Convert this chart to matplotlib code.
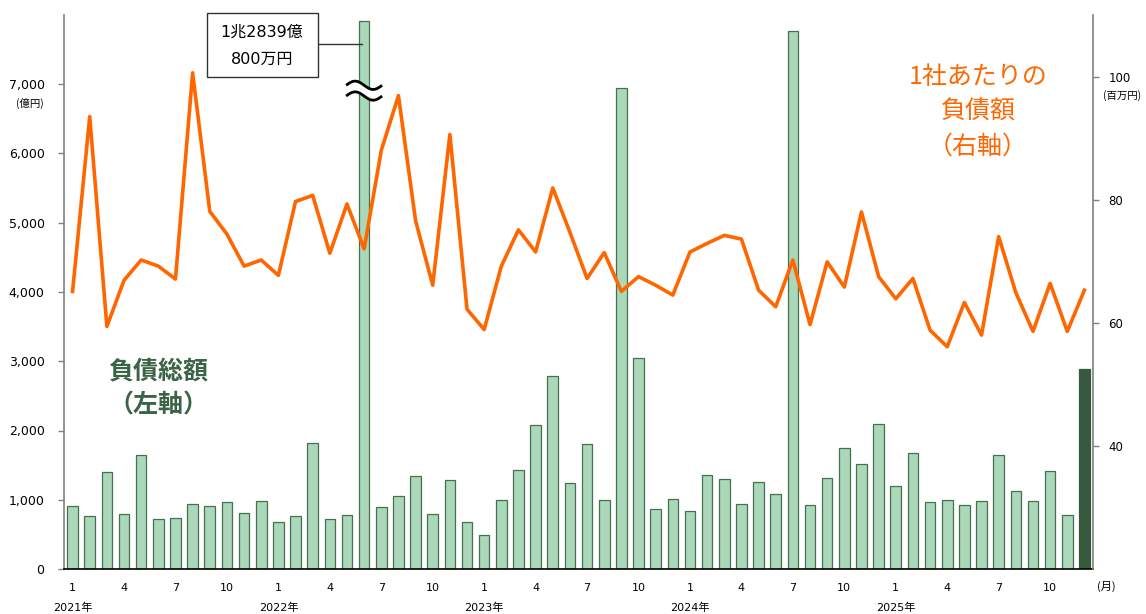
import numpy as np
import matplotlib
matplotlib.use("Agg")
import matplotlib.pyplot as plt
from matplotlib.patches import Rectangle
from matplotlib.lines import Line2D
from matplotlib.ticker import FuncFormatter
import matplotlib.transforms as mtransforms

# DejaVu for latin/digits (Verdana-like), Noto CJK for Japanese
plt.rcParams['font.family'] = ['DejaVu Sans', 'Noto Sans CJK JP']
jp = ['Noto Sans CJK JP', 'DejaVu Sans']

# monthly data 2021/1 - 2025/12
years = [2021, 2022, 2023, 2024, 2025]
months = [m for y in years for m in range(1, 13)]

# total liabilities (億円), left axis
total_debt = [
    910, 770, 1400, 795, 1650, 725, 735, 940, 910, 965, 810, 975,
    685, 770, 1820, 725, 780, 12839.08, 895, 1055, 1350, 795, 1285, 680,
    495, 1000, 1425, 2080, 2785, 1235, 1800, 990, 6950, 3050, 870, 1010,
    835, 1360, 1305, 940, 1255, 1080, 7775, 925, 1310, 1750, 1515, 2090,
    1195, 1670, 965, 1000, 925, 975, 1650, 1130, 975, 1410, 780, 2885,
]

# liabilities per company (百万円), right axis
per_company = [
    65.1, 93.5, 59.4, 66.9, 70.2, 69.2, 67.1, 100.6, 78.1, 74.4, 69.2, 70.2,
    67.7, 79.7, 80.7, 71.3, 79.3, 72.0, 88.0, 96.9, 76.6, 66.1, 90.6, 62.2,
    58.9, 69.2, 75.1, 71.5, 81.9, 74.7, 67.2, 71.4, 65.1, 67.5, 66.1, 64.5,
    71.5, 72.9, 74.2, 73.6, 65.3, 62.6, 70.2, 59.7, 69.9, 65.8, 78.0, 67.5,
    63.9, 67.2, 58.8, 56.1, 63.3, 58.0, 74.0, 64.9, 58.6, 66.4, 58.6, 65.3,
]

break_cap = 7920  # bars above the axis are drawn cut with a break mark

light = '#abd8ba'
dark = '#375a3d'
edge = '#46704f'
orange = '#ff6600'
W, H = 1146, 614


def fx(px):
    return px / W


def fy(py):
    return 1 - py / H


fig = plt.figure(figsize=(W / 100, H / 100), dpi=100)
ax = fig.add_axes([fx(64), fy(569), fx(1093 - 64), (569 - 15) / H])

x = np.arange(len(total_debt))
disp = np.minimum(np.array(total_debt), break_cap)
ax.bar(x[:-1], disp[:-1], width=0.62, color=light, edgecolor=edge, linewidth=0.9, zorder=2)
ax.bar(x[-1:], disp[-1:], width=0.62, color=dark, edgecolor=dark, linewidth=0.9, zorder=2)

ax.set_xlim(-0.5, len(x) - 0.5)
ax.set_ylim(0, 8000)
ax.set_yticks(range(0, 8000, 1000))
ax.yaxis.set_major_formatter(FuncFormatter(lambda v, p: f'{int(v):,}'))
ax.tick_params(axis='y', length=4, width=1, color='#808080', pad=10, labelsize=9)

tick_pos = [i for i, m in enumerate(months) if m in (1, 4, 7, 10)]
ax.set_xticks(tick_pos)
ax.set_xticklabels([str(months[i]) for i in tick_pos])
ax.tick_params(axis='x', length=0, pad=10, labelsize=8)

ax.spines['top'].set_visible(False)
ax.spines['left'].set_color('#808080')
ax.spines['left'].set_linewidth(1.2)
ax.spines['right'].set_visible(False)
ax.spines['bottom'].set_color('black')
ax.spines['bottom'].set_linewidth(1.2)

# year labels
trans = mtransforms.blended_transform_factory(ax.transData, ax.transAxes)
for i, yr in enumerate(years):
    ax.text(i * 12, -0.0705, f'{yr}年', transform=trans, ha='center', va='center', fontsize=8)
ax.text(len(x) + 0.3, -0.031, '(月)', transform=trans, ha='center', va='center', fontsize=8,
        family=jp)

# break mark on cut bar
big = [i for i, v in enumerate(total_debt) if v > break_cap]
for i in big:
    t = np.linspace(0, 1, 80)
    xs = i - 1.05 + 2.1 * t
    wave = 60 * np.sin(2 * np.pi * t)
    y_hi = 6985 + wave
    y_lo = 6830 + wave
    ax.fill_between(xs, y_lo, y_hi, color='white', zorder=5)
    ax.plot(xs, y_hi, color='black', lw=2.0, zorder=6, solid_capstyle='butt')
    ax.plot(xs, y_lo, color='black', lw=2.0, zorder=6, solid_capstyle='butt')

ax2 = ax.twinx()
ax2.plot(x, per_company, color=orange, lw=2.6, zorder=3)
ax2.set_ylim(20, 110)
ax2.set_yticks([40, 60, 80, 100])
ax2.tick_params(axis='y', length=4, width=1, color='#808080', pad=7, labelsize=8.5)
for s in ['top', 'left', 'bottom']:
    ax2.spines[s].set_visible(False)
ax2.spines['right'].set_color('#808080')
ax2.spines['right'].set_linewidth(1.2)

# unit labels
fig.text(fx(30), fy(103), '(億円)', ha='center', va='center', fontsize=7.5, family=jp)
fig.text(fx(1122), fy(96), '(百万円)', ha='center', va='center', fontsize=7.5, family=jp)

# callout box for the cut bar
fig.patches.append(Rectangle((fx(207), fy(77)), fx(111), 64 / H, transform=fig.transFigure,
                             facecolor='white', edgecolor='#333333', lw=1.0, zorder=10))
fig.text(fx(262), fy(32), '1兆2839億', ha='center', va='center', fontsize=11.5, zorder=11)
fig.text(fx(262), fy(59), '800万円', ha='center', va='center', fontsize=11.5, zorder=11)
fig.lines.append(Line2D([fx(318), fx(362)], [fy(44), fy(44)], transform=fig.transFigure,
                        color='#333333', lw=1.0, zorder=10))

fig.text(fx(978), fy(112), '1社あたりの\n負債額\n（右軸）', ha='center', va='center',
         multialignment='center', fontsize=18, color=orange, linespacing=1.45, family=jp)
fig.text(fx(158), fy(389), '負債総額\n（左軸）', ha='center', va='center',
         multialignment='center', fontsize=18, color='#3b6345', fontweight='bold',
         linespacing=1.45, family=jp)

fig.savefig('out.png', dpi=100)
